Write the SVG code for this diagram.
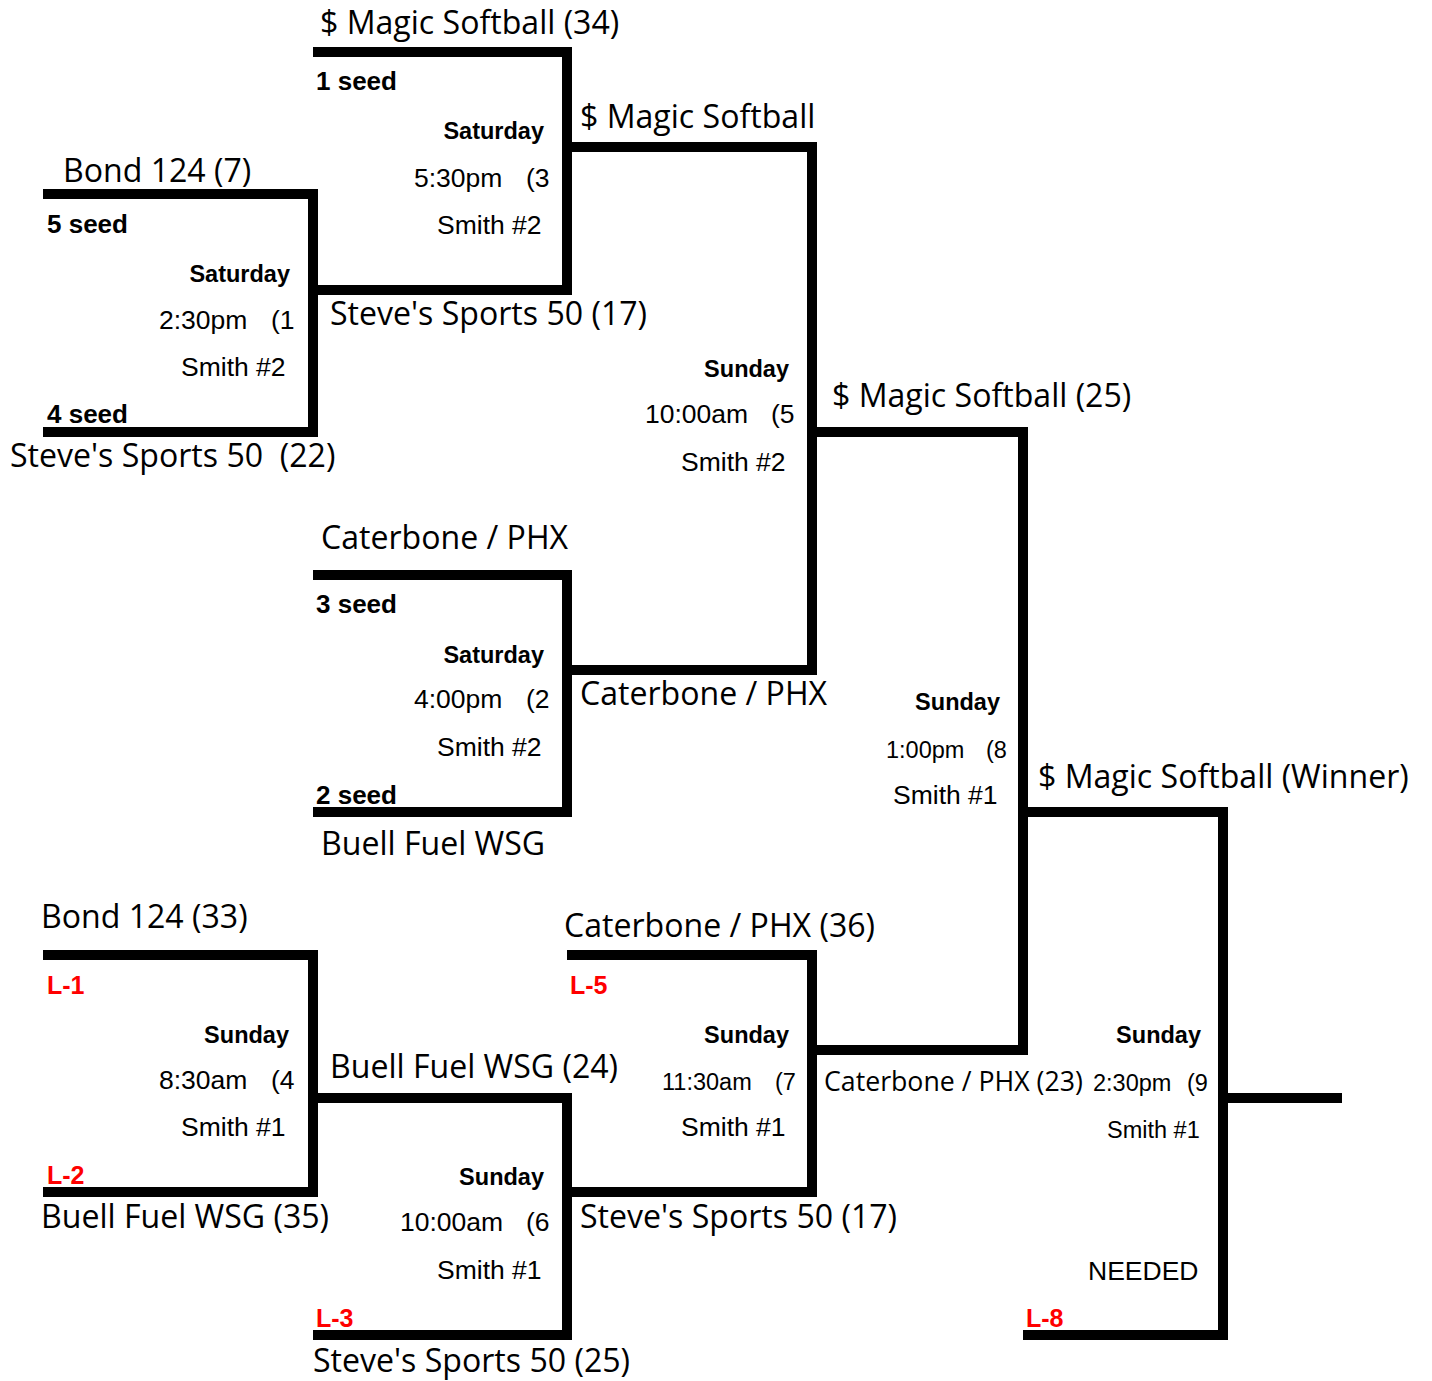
<svg xmlns="http://www.w3.org/2000/svg" width="1432" height="1381" viewBox="0 0 1432 1381">
<style>
.ln{fill:none;stroke:#000;stroke-width:10;stroke-linejoin:miter}
.tm{font-family:"Open Sans","Noto Sans",sans-serif;font-size:32.1px;fill:#000;white-space:pre}
.tms{font-family:"Open Sans","Noto Sans",sans-serif;font-size:26.7px;fill:#000}
.day{font-family:"Liberation Sans",Arial,sans-serif;font-size:23.5px;font-weight:bold;fill:#000;text-anchor:end}
.inf{font-family:"Liberation Sans",Arial,sans-serif;font-size:26.5px;fill:#000}
.infs{font-family:"Liberation Sans",Arial,sans-serif;font-size:23.5px;fill:#000}
.seed{font-family:"Liberation Sans",Arial,sans-serif;font-size:26px;font-weight:bold;fill:#000}
.los{font-family:"Liberation Sans",Arial,sans-serif;font-size:25px;font-weight:bold;fill:#ff0000}
</style>
<rect width="1432" height="1381" fill="#fff"/>
<g id="connectors">
<path class="ln" d="M43,194 H313 V432 H43"/>
<path class="ln" d="M313,52 H567 V290 H313"/>
<path class="ln" d="M313,575 H567 V812 H313"/>
<path class="ln" d="M567,147 H812 V670 H567"/>
<path class="ln" d="M812,432 H1023 V1050 H812"/>
<path class="ln" d="M1023,812 H1223 V1335 H1023"/>
<path class="ln" d="M1223,1098 H1342"/>
<path class="ln" d="M43,955 H313 V1192 H43"/>
<path class="ln" d="M313,1098 H567 V1335 H313"/>
<path class="ln" d="M567,955 H812 V1192 H567"/>
</g>
<g id="game1">
<text class="tm" x="63" y="182">Bond 124 (7)</text>
<text class="seed" x="47" y="233">5 seed</text>
<text class="day" x="290" y="282">Saturday</text>
<text class="inf" x="159" y="329">2:30pm<tspan x="271">(1</tspan></text>
<text class="inf" x="181" y="376">Smith #2</text>
<text class="seed" x="47" y="423">4 seed</text>
<text class="tm" x="10" y="467" xml:space="preserve">Steve's Sports 50  (22)</text>
</g>
<g id="game3">
<text class="tm" x="320" y="34">$ Magic Softball (34)</text>
<text class="seed" x="316" y="90">1 seed</text>
<text class="day" x="544" y="139">Saturday</text>
<text class="inf" x="414" y="187">5:30pm<tspan x="526">(3</tspan></text>
<text class="inf" x="437" y="234">Smith #2</text>
<text class="tm" x="330" y="325">Steve's Sports 50 (17)</text>
</g>
<g id="game2">
<text class="tm" x="321" y="549">Caterbone / PHX</text>
<text class="seed" x="316" y="613">3 seed</text>
<text class="day" x="544" y="663">Saturday</text>
<text class="inf" x="414" y="708">4:00pm<tspan x="526">(2</tspan></text>
<text class="inf" x="437" y="756">Smith #2</text>
<text class="seed" x="316" y="804">2 seed</text>
<text class="tm" x="321" y="855">Buell Fuel WSG</text>
</g>
<g id="game5">
<text class="tm" x="580" y="128">$ Magic Softball</text>
<text class="day" x="789" y="377">Sunday</text>
<text class="inf" x="645" y="423">10:00am<tspan x="771">(5</tspan></text>
<text class="inf" x="681" y="471">Smith #2</text>
<text class="tm" x="580" y="705">Caterbone / PHX</text>
</g>
<g id="game8">
<text class="tm" x="832" y="407">$ Magic Softball (25)</text>
<text class="day" x="1000" y="710">Sunday</text>
<text class="infs" x="886" y="758">1:00pm<tspan x="986">(8</tspan></text>
<text class="inf" x="893" y="804">Smith #1</text>
</g>
<g id="game9">
<text class="tm" x="1038" y="788">$ Magic Softball (Winner)</text>
<text class="tms" x="824" y="1091">Caterbone / PHX (23)</text>
<text class="day" x="1201" y="1043">Sunday</text>
<text class="infs" x="1093" y="1091">2:30pm<tspan x="1187">(9</tspan></text>
<text class="infs" x="1107" y="1138">Smith #1</text>
<text class="inf" x="1088" y="1280">NEEDED</text>
<text class="los" x="1026" y="1327">L-8</text>
</g>
<g id="game4">
<text class="tm" x="41" y="928">Bond 124 (33)</text>
<text class="los" x="47" y="994">L-1</text>
<text class="day" x="289" y="1043">Sunday</text>
<text class="inf" x="159" y="1089">8:30am<tspan x="271">(4</tspan></text>
<text class="inf" x="181" y="1136">Smith #1</text>
<text class="los" x="47" y="1184">L-2</text>
<text class="tm" x="41" y="1228">Buell Fuel WSG (35)</text>
</g>
<g id="game6">
<text class="tm" x="330" y="1078">Buell Fuel WSG (24)</text>
<text class="day" x="544" y="1185">Sunday</text>
<text class="inf" x="400" y="1231">10:00am<tspan x="526">(6</tspan></text>
<text class="inf" x="437" y="1279">Smith #1</text>
<text class="los" x="316" y="1327">L-3</text>
<text class="tm" x="313" y="1372">Steve's Sports 50 (25)</text>
</g>
<g id="game7">
<text class="tm" x="564" y="937">Caterbone / PHX (36)</text>
<text class="los" x="570" y="994">L-5</text>
<text class="day" x="789" y="1043">Sunday</text>
<text class="infs" x="662" y="1090">11:30am<tspan x="775">(7</tspan></text>
<text class="inf" x="681" y="1136">Smith #1</text>
<text class="tm" x="580" y="1228">Steve's Sports 50 (17)</text>
</g>
</svg>
